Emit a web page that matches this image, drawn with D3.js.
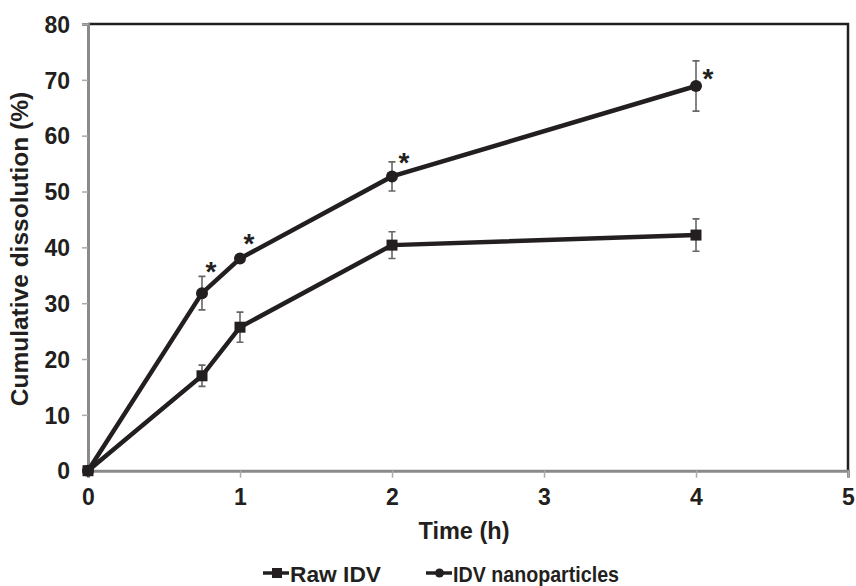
<!DOCTYPE html>
<html><head><meta charset="utf-8">
<script src="https://cdn.jsdelivr.net/npm/d3@7"></script>
<style>body{margin:0;background:#fff}svg{display:block}text{font-family:"Liberation Sans",Arial,sans-serif;font-weight:bold;fill:#231f20}</style>
</head><body><svg id="c" width="856" height="586"></svg>
<script>
const times = [0, 0.75, 1, 2, 4];
const rawIDV = [0, 17.0, 25.7, 40.4, 42.2];
const rawErr = [0, 1.9, 2.7, 2.4, 2.9];
const nanoIDV = [0, 31.8, 38.0, 52.7, 68.9];
const nanoErr = [0, 3.0, 0.5, 2.6, 4.5];
const sigTimes = [0.75, 1, 2, 4];
const xTicks = [0, 1, 2, 3, 4, 5];
const yTicks = [0, 10, 20, 30, 40, 50, 60, 70, 80];
const seriesNames = ["Raw IDV", "IDV nanoparticles"];

const svg = d3.select("#c");
const x = d3.scaleLinear().domain([0, 5]).range([88, 848]);
const y = d3.scaleLinear().domain([0, 80]).range([470.7, 24]);
const ink = "#231f20", grey = "#8a8a8a";

// frame top/right
svg.append("path").attr("d", `M${x(0)},${y(80)}H${x(5)}V${y(0)}`).attr("fill","none").attr("stroke",ink).attr("stroke-width",2.5);

const yAxis = svg.append("g").attr("transform",`translate(${x(0)},0)`)
  .call(d3.axisLeft(y).tickValues(yTicks).tickFormat(d3.format("d")).tickSize(6).tickPadding(12));
const xAxis = svg.append("g").attr("transform",`translate(0,${y(0)})`)
  .call(d3.axisBottom(x).tickValues(xTicks).tickFormat(d3.format("d")).tickSize(7).tickPadding(8));
[yAxis, xAxis].forEach(a => {
  a.select(".domain").attr("stroke", grey).attr("stroke-width", 3);
  a.selectAll(".tick line").attr("stroke", "#aaa").attr("stroke-width", 1.5);
  a.selectAll("text").attr("font-size", 23).attr("fill", ink).style("font-weight","bold");
});
yAxis.selectAll("text").attr("dy", "0.36em");
xAxis.selectAll("text").attr("dy", "0.85em");

svg.append("text").attr("x", 464).attr("y", 539).attr("text-anchor","middle").attr("font-size",23.5).text("Time (h)");
svg.append("text").attr("transform","translate(28,249) rotate(-90)").attr("text-anchor","middle").attr("font-size",24.5).text("Cumulative dissolution (%)");

const line = d3.line().x(d => x(d[0])).y(d => y(d[1]));
function drawSeries(vals, errs, shape) {
  const pts = times.map((t,i)=>[t, vals[i], errs[i]]);
  const g = svg.append("g");
  pts.filter(p=>p[2]>0).forEach(p=>{
    const cx = x(p[0]);
    g.append("path").attr("d",`M${cx},${y(p[1]-p[2])}V${y(p[1]+p[2])}M${cx-3.5},${y(p[1]-p[2])}H${cx+3.5}M${cx-3.5},${y(p[1]+p[2])}H${cx+3.5}`)
      .attr("stroke","#666").attr("stroke-width",1.6).attr("fill","none");
  });
  g.append("path").datum(pts).attr("d", line).attr("fill","none").attr("stroke",ink).attr("stroke-width",4.5);
  pts.forEach(p=>{
    if (shape === "square") g.append("rect").attr("x",x(p[0])-5.5).attr("y",y(p[1])-5.5).attr("width",11).attr("height",11).attr("fill",ink);
    else g.append("circle").attr("cx",x(p[0])).attr("cy",y(p[1])).attr("r",6).attr("fill",ink);
  });
}
drawSeries(rawIDV, rawErr, "square");
drawSeries(nanoIDV, nanoErr, "circle");

// significance marks: placed relative to each nanoparticle point
const starOffset = {0.75:[9,-28], 1:[9,-22], 2:[12,-20], 4:[12,-14]};
sigTimes.forEach(t=>{
  const i = times.indexOf(t);
  const o = starOffset[t];
  svg.append("text").attr("x", x(t)+o[0]).attr("y", y(nanoIDV[i]) + o[1] + 16)
    .attr("text-anchor","middle").attr("font-size",28).text("*");
});

// legend
const lg = svg.append("g");
const items = [{x:289, shape:"square", len:91}, {x:452, shape:"circle", len:166}];
items.forEach((it,i)=>{
  lg.append("line").attr("x1",it.x-26).attr("x2",it.x).attr("y1",573).attr("y2",573).attr("stroke",ink).attr("stroke-width",3.5);
  if (it.shape==="square") lg.append("rect").attr("x",it.x-17).attr("y",568).attr("width",10).attr("height",10).attr("fill",ink);
  else lg.append("circle").attr("cx",it.x-12.5).attr("cy",573).attr("r",4.5).attr("fill",ink);
  lg.append("text").attr("x",it.x+1).attr("y",582).attr("font-size",21.5)
    .attr("textLength", it.len).attr("lengthAdjust","spacingAndGlyphs").text(seriesNames[i]);
});
</script></body></html>
